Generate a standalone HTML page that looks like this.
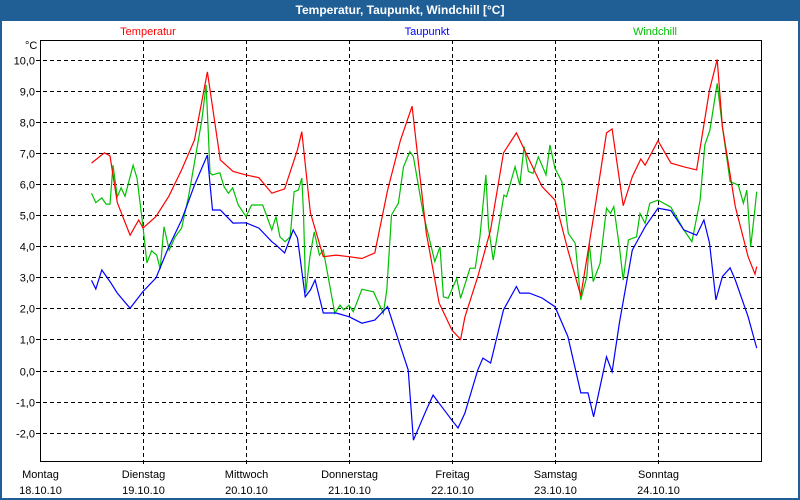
<!DOCTYPE html>
<html><head><meta charset="utf-8">
<style>
html,body{margin:0;padding:0;background:#fff;}
#win{position:relative;width:800px;height:500px;box-sizing:border-box;border:2px solid #1f5f96;border-top:none;background:#fff;overflow:hidden;font-family:"Liberation Sans",sans-serif;}
#titlebar{position:absolute;left:-2px;top:0;width:800px;height:21px;background:#1f5f96;color:#fff;font-weight:bold;font-size:12px;text-align:center;line-height:21px;}
svg{position:absolute;left:-2px;top:0;}
</style></head><body>
<div id="win">
<div id="titlebar">Temperatur, Taupunkt, Windchill [°C]</div>
<svg id="chart" width="800" height="500"></svg>
</div>
<script>
const yTicks=[10,9,8,7,6,5,4,3,2,1,0,-1,-2];
const yTickLabels=["10,0","9,0","8,0","7,0","6,0","5,0","4,0","3,0","2,0","1,0","0,0","-1,0","-2,0"];
const dayNames=["Montag","Dienstag","Mittwoch","Donnerstag","Freitag","Samstag","Sonntag"];
const dayDates=["18.10.10","19.10.10","20.10.10","21.10.10","22.10.10","23.10.10","24.10.10"];
const tempHours=[12,15,16.3,18,21,23,24,27,30,33,36,39,42,45,48,51,54,57,60,61,63,66,69,72,75,78,81,84,86.7,90,93,96,98,99,102,105,108,111,114,117,120,123,126,129,132,133.3,135.9,138,140,141,144,147,150,153,156,157.8,159,162,165,166.6,167];
const tempValues=[6.67,7.0,6.9,5.4,4.35,4.84,4.58,4.95,5.6,6.45,7.41,9.6,6.77,6.4,6.29,6.2,5.7,5.84,7.1,7.68,5.07,3.66,3.71,3.66,3.6,3.78,5.8,7.41,8.5,4.42,2.17,1.3,1.0,1.72,3.02,4.52,7.0,7.64,6.77,5.91,5.48,3.87,2.4,4.95,7.64,7.77,5.3,6.23,6.8,6.6,7.39,6.67,6.55,6.45,9.02,10.0,7.84,5.27,3.66,3.1,3.34];
const dewHours=[12,13,14.4,16.3,18,21,24,27,30,33,36,39,39.6,40.2,42,45,48,51,54,55,57,59,60,61.8,63,64.1,66,69,72,75,78,81,84,85.8,87,90,91.6,93,96,97.4,99,102,103.2,105,108,111,111.8,114,117,120,123,126,127.7,129,132,133.3,135,138,141,144,147,150,153,154.7,156,157.5,159,160.8,162,165,167];
const dewValues=[2.9,2.62,3.23,2.86,2.49,2.0,2.54,2.97,3.98,4.84,5.96,6.93,6.0,5.16,5.16,4.74,4.75,4.58,4.14,4.04,3.78,4.52,4.26,2.37,2.59,2.91,1.85,1.85,1.73,1.52,1.62,2.05,0.77,0.02,-2.24,-1.27,-0.79,-1.05,-1.6,-1.85,-1.37,0.02,0.4,0.24,1.95,2.7,2.49,2.49,2.33,2.05,1.09,-0.72,-0.72,-1.49,0.44,-0.04,1.53,3.87,4.62,5.22,5.14,4.52,4.35,4.84,4.1,2.27,3.02,3.3,2.91,1.73,0.72];
const windHours=[12,13,14.4,15.4,16.3,17,18,18.9,19.8,21.7,22.6,24,24.9,26,27.2,28,28.9,30.1,31.5,33,34.6,36.1,37.7,38.7,39.2,39.6,40.2,41.9,42.9,43.9,44.9,46.2,48,49.3,51.9,54,55,55.9,57.1,58.3,59.2,60.2,61,61.4,61.9,62.9,63.9,65.1,66,68.7,69.9,70.8,72,73,75,77.7,80,80.8,81.9,83.5,84.7,86.2,87,89.3,92,93.2,94,95.1,97.1,98,100.2,101.4,102.5,103.9,104.5,105.6,108.1,108.7,110.7,111.8,112.8,113.8,114.9,116.1,117.9,118.8,120,121.6,123.1,124.7,126,127.4,128,128.9,130.5,132,132.9,133.7,135.1,135.9,137.1,139,139.8,141,142.1,144,147,150,151.9,153.8,154.9,156.1,157.8,159,160.8,162.7,163.9,164.7,165.6,166.4,167];
const windValues=[5.7,5.4,5.55,5.35,5.35,6.6,5.59,5.87,5.6,6.6,6.19,4.62,3.46,3.85,3.71,3.26,4.62,3.87,4.3,4.58,5.59,6.77,8.05,9.18,7.73,6.35,6.29,6.36,5.91,5.7,5.87,5.32,4.95,5.32,5.32,4.52,4.95,4.3,4.14,4.3,5.75,5.8,6.19,5.06,2.49,3.66,4.46,3.71,3.87,1.84,2.1,1.95,2.1,1.89,2.61,2.53,1.84,2.59,5.0,5.38,6.55,7.04,6.87,5.05,3.5,3.98,2.37,2.32,2.96,2.32,3.29,3.29,4.3,6.29,4.62,3.55,5.64,5.59,6.55,5.96,7.2,6.4,6.34,6.87,6.29,7.25,6.5,6.07,4.41,4.09,2.27,3.02,4.09,2.86,3.45,5.22,5.05,5.27,3.87,2.91,4.2,4.3,5.05,4.73,5.38,5.48,5.25,4.52,4.14,5.48,7.25,7.73,9.23,7.84,6.07,5.96,5.38,5.8,3.98,4.95,5.75];

const svg=document.getElementById('chart');
const NS='http://www.w3.org/2000/svg';
const L=40,R=761,T=40,B=461;
function xS(h){return L+h*(R-L)/168;}
function yS(v){return 59.5+(10-v)*31.1;}
function mk(tag,attrs,text){const e=document.createElementNS(NS,tag);for(const k in attrs)e.setAttribute(k,attrs[k]);if(text!==undefined)e.textContent=text;svg.appendChild(e);return e;}

// horizontal grid + y labels
yTicks.forEach((v,i)=>{
  const y=Math.round(yS(v))+0.5;
  const g=mk('line',{x1:36,x2:R,y1:y,y2:y,stroke:'#000','stroke-width':1,'stroke-dasharray':'4,3'});
  
  
  const t=mk('text',{x:35,y:y+4,'text-anchor':'end','font-size':11,fill:'#000','font-family':'Liberation Sans, sans-serif'},yTickLabels[i]);
  
  
});
// vertical grid + x labels
dayNames.forEach((d,i)=>{
  const x=Math.round(xS(i*24))+0.5;
  if(i>0){
    const g=mk('line',{x1:x,x2:x,y1:T,y2:B+4,stroke:'#000','stroke-width':1,'stroke-dasharray':'4,3'});
    
    
  }
  const t1=mk('text',{x:x,y:478,'text-anchor':'middle','font-size':11,fill:'#000','font-family':'Liberation Sans, sans-serif'},d);
  
  
  const t2=mk('text',{x:x,y:494,'text-anchor':'middle','font-size':11,fill:'#000','font-family':'Liberation Sans, sans-serif'},dayDates[i]);
  
  
});
const frame=mk('rect',{x:L+0.5,y:T+0.5,width:R-L,height:B-T,fill:'none',stroke:'#000','stroke-width':1});


const unit=mk('text',{x:25,y:49,'font-size':11,fill:'#000','font-family':'Liberation Sans, sans-serif'},'°C');



function series(hours,vals,color,name){
  const pts=hours.map((h,i)=>xS(h).toFixed(1)+','+yS(vals[i]).toFixed(1)).join(' ');
  const p=mk('polyline',{points:pts,fill:'none',stroke:color,'stroke-width':1.2,'stroke-linejoin':'miter'});
  
  
}
series(windHours,windValues,'#00c000','windchill-line');
series(tempHours,tempValues,'#ff0000','temperature-line');
series(dewHours,dewValues,'#0000ff','dewpoint-line');

const lg=[['Temperatur','#ff0000',148],['Taupunkt','#0000ff',427],['Windchill','#00c000',655]];
lg.forEach(l=>{
  const t=mk('text',{x:l[2],y:35,'text-anchor':'middle','font-size':11,fill:l[1],'font-family':'Liberation Sans, sans-serif'},l[0]);
  
  
});
</script>
</body></html>
